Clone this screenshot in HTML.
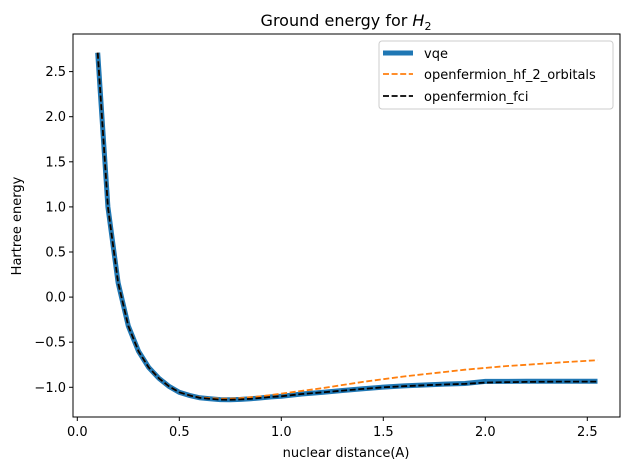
<!DOCTYPE html>
<html><head><meta charset="utf-8"><style>
body{margin:0;background:#fff}
svg text{font-family:"DejaVu Sans","Liberation Sans",sans-serif;fill:#000}
</style></head><body>
<svg id="chart" width="630" height="470" xmlns="http://www.w3.org/2000/svg">
<rect width="630" height="470" fill="#fff"/>
<g id="marks"></g>
<g id="axes"></g>
</svg>
<script>
const xs=[0.10,0.15,0.20,0.25,0.30,0.35,0.40,0.45,0.50,0.55,0.60,0.65,0.70,0.75,0.80,0.85,0.90,0.95,1.00,1.10,1.20,1.30,1.40,1.50,1.60,1.70,1.80,1.90,2.00,2.10,2.20,2.30,2.40,2.55];
const vqe=[2.71,1.00,0.16,-0.32,-0.60,-0.78,-0.90,-0.99,-1.055,-1.09,-1.116,-1.128,-1.136,-1.137,-1.134,-1.127,-1.117,-1.106,-1.10,-1.074,-1.057,-1.035,-1.015,-0.998,-0.985,-0.974,-0.965,-0.958,-0.935,-0.935,-0.933,-0.933,-0.932,-0.932];
const hf=[2.71,1.00,0.16,-0.32,-0.60,-0.78,-0.90,-0.99,-1.055,-1.09,-1.112,-1.12,-1.125,-1.125,-1.12,-1.11,-1.10,-1.085,-1.07,-1.04,-1.01,-0.975,-0.94,-0.91,-0.88,-0.855,-0.83,-0.805,-0.785,-0.765,-0.75,-0.735,-0.72,-0.70];
const fci=[2.71,1.00,0.16,-0.32,-0.60,-0.78,-0.90,-0.99,-1.055,-1.09,-1.116,-1.128,-1.136,-1.137,-1.134,-1.127,-1.117,-1.106,-1.10,-1.074,-1.057,-1.037,-1.018,-1.0,-0.988,-0.978,-0.969,-0.962,-0.948,-0.943,-0.940,-0.938,-0.937,-0.937];
const xTicks=[0.0,0.5,1.0,1.5,2.0,2.5];
const yTicks=[2.5,2.0,1.5,1.0,0.5,0.0,-0.5,-1.0];
const X=v=>77.3+v*204;
const Y=v=>297.1-v*90.2;
const NS="http://www.w3.org/2000/svg";
function mk(t,a,p){const e=document.createElementNS(NS,t);for(const k in a)e.setAttribute(k,a[k]);p.appendChild(e);return e;}
const marks=document.getElementById('marks'),axes=document.getElementById('axes');
function line(arr,color,w,dash,name){
 const d=arr.map((v,i)=>(i?'L':'M')+X(xs[i]).toFixed(1)+','+Y(v).toFixed(1)).join('');
 const p=mk('path',{d:d,fill:'none',stroke:color,'stroke-width':w,'stroke-dasharray':dash||'none'},marks);
 
 
}
line(vqe,'#1f77b4',5,null,'vqe-line');
line(hf,'#ff7f0e',1.8,'6,2.6','hf-line');
line(fci,'#000',1.8,'6,2.6','fci-line');
const fr=mk('rect',{x:73,y:34,width:547,height:383,fill:'none',stroke:'#000','stroke-width':1},axes);


xTicks.forEach(v=>{
 mk('line',{x1:X(v),x2:X(v),y1:417,y2:421,stroke:'#000'},axes);
 const t=mk('text',{x:X(v),y:436,'text-anchor':'middle','font-size':13},axes);t.textContent=v.toFixed(1);
 
 
});
yTicks.forEach(v=>{
 mk('line',{x1:69,x2:73,y1:Y(v),y2:Y(v),stroke:'#000'},axes);
 const t=mk('text',{x:66,y:Y(v)+4.5,'text-anchor':'end','font-size':13},axes);t.textContent=v.toFixed(1).replace('-','\u2212');
 
 
});
</script>
<svg style="position:absolute;left:0;top:0" width="630" height="470" xmlns="http://www.w3.org/2000/svg">
<text x="346" y="26" text-anchor="middle" font-size="16">Ground energy for <tspan font-style="italic">H</tspan><tspan font-size="11" dy="4">2</tspan></text>
<text x="346" y="457" text-anchor="middle" font-size="13">nuclear distance(A)</text>
<text transform="translate(21,226) rotate(-90)" text-anchor="middle" font-size="13">Hartree energy</text>
<g>
<rect x="379" y="41" width="234" height="68" rx="3" fill="#fff" fill-opacity="0.8" stroke="#ccc"/>
<line x1="383" x2="413" y1="53" y2="53" stroke="#1f77b4" stroke-width="5"/>
<text x="424" y="58" font-size="13">vqe</text>
<line x1="383" x2="413" y1="74" y2="74" stroke="#ff7f0e" stroke-width="1.8" stroke-dasharray="6,2.6"/>
<text x="424" y="79" font-size="13">openfermion_hf_2_orbitals</text>
<line x1="383" x2="413" y1="96" y2="96" stroke="#000" stroke-width="1.8" stroke-dasharray="6,2.6"/>
<text x="424" y="101" font-size="13">openfermion_fci</text>
</g>
</svg>
</body></html>
